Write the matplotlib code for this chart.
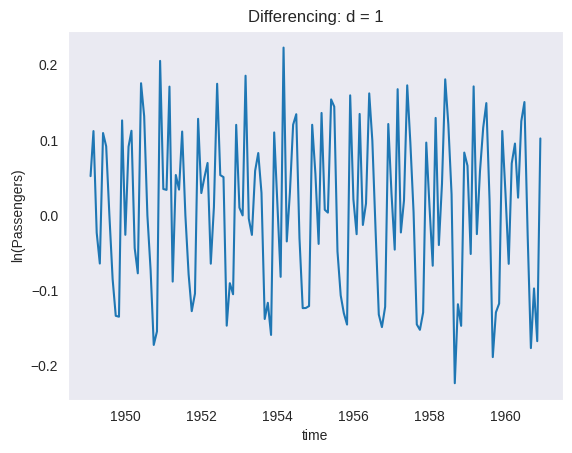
import pandas as pd
import matplotlib
matplotlib.use("Agg")
import matplotlib.pyplot as plt
import seaborn as sns

# Log-differenced monthly passengers, Feb 1949 .. Dec 1960
START_MONTH = "1949-02-01"
diff_values = [
    0.0522, 0.1121, -0.0230, -0.0640, 0.1095, 0.0919, 0.0000, -0.0846, -0.1335, -0.1347, 0.1263,
    -0.0258, 0.0914, 0.1125, -0.0435, -0.0770, 0.1757, 0.1319, 0.0000, -0.0732, -0.1722, -0.1542, 0.2054,
    0.0351, 0.0339, 0.1712, -0.0880, 0.0537, 0.0343, 0.1115, 0.0000, -0.0784, -0.1273, -0.1040, 0.1284,
    0.0297, 0.0513, 0.0697, -0.0642, 0.0110, 0.1750, 0.0536, 0.0509, -0.1466, -0.0901, -0.1048, 0.1204,
    0.0103, 0.0000, 0.1857, -0.0042, -0.0259, 0.0593, 0.0829, 0.0299, -0.1377, -0.1162, -0.1589, 0.1103,
    0.0148, -0.0817, 0.2231, -0.0346, 0.0304, 0.1206, 0.1345, -0.0303, -0.1233, -0.1231, -0.1205, 0.1205,
    0.0552, -0.0379, 0.1362, 0.0075, 0.0037, 0.1542, 0.1446, -0.0478, -0.1063, -0.1299, -0.1451, 0.1596,
    0.0214, -0.0250, 0.1349, -0.0127, 0.0158, 0.1622, 0.0992, -0.0196, -0.1318, -0.1485, -0.1215, 0.1215,
    0.0290, -0.0455, 0.1678, -0.0227, 0.0199, 0.1729, 0.0970, 0.0043, -0.1449, -0.1521, -0.1290, 0.0968,
    0.0118, -0.0669, 0.1296, -0.0394, 0.0422, 0.1809, 0.1211, 0.0281, -0.2231, -0.1181, -0.1468, 0.0835,
    0.0660, -0.0513, 0.1715, -0.0249, 0.0588, 0.1167, 0.1493, 0.0199, -0.1884, -0.1289, -0.1172, 0.1122,
    0.0292, -0.0644, 0.0692, 0.0955, 0.0236, 0.1253, 0.1507, -0.0261, -0.1764, -0.0971, -0.1672, 0.1023,
]

months = pd.date_range(START_MONTH, periods=len(diff_values), freq="MS")
series = pd.Series(diff_values, index=months)

sns.set_style("dark")
plt.rcParams["font.family"] = ["Liberation Sans", "DejaVu Sans"]
plt.rcParams["axes.titlesize"] = 12
plt.rcParams["axes.labelsize"] = 10
plt.rcParams["xtick.labelsize"] = 10
plt.rcParams["ytick.labelsize"] = 10

fig, ax = plt.subplots(figsize=(5.72, 4.53), dpi=100)
plt.subplots_adjust(left=0.119, right=0.984, top=0.932, bottom=0.117)

ax.plot(series.index, series.values, color="#1f77b4", linewidth=1.5)

ax.set_title("Differencing: d = 1")
ax.set_xlabel("time")
ax.set_ylabel("ln(Passengers)")

fig.savefig("out.png", dpi=100)
